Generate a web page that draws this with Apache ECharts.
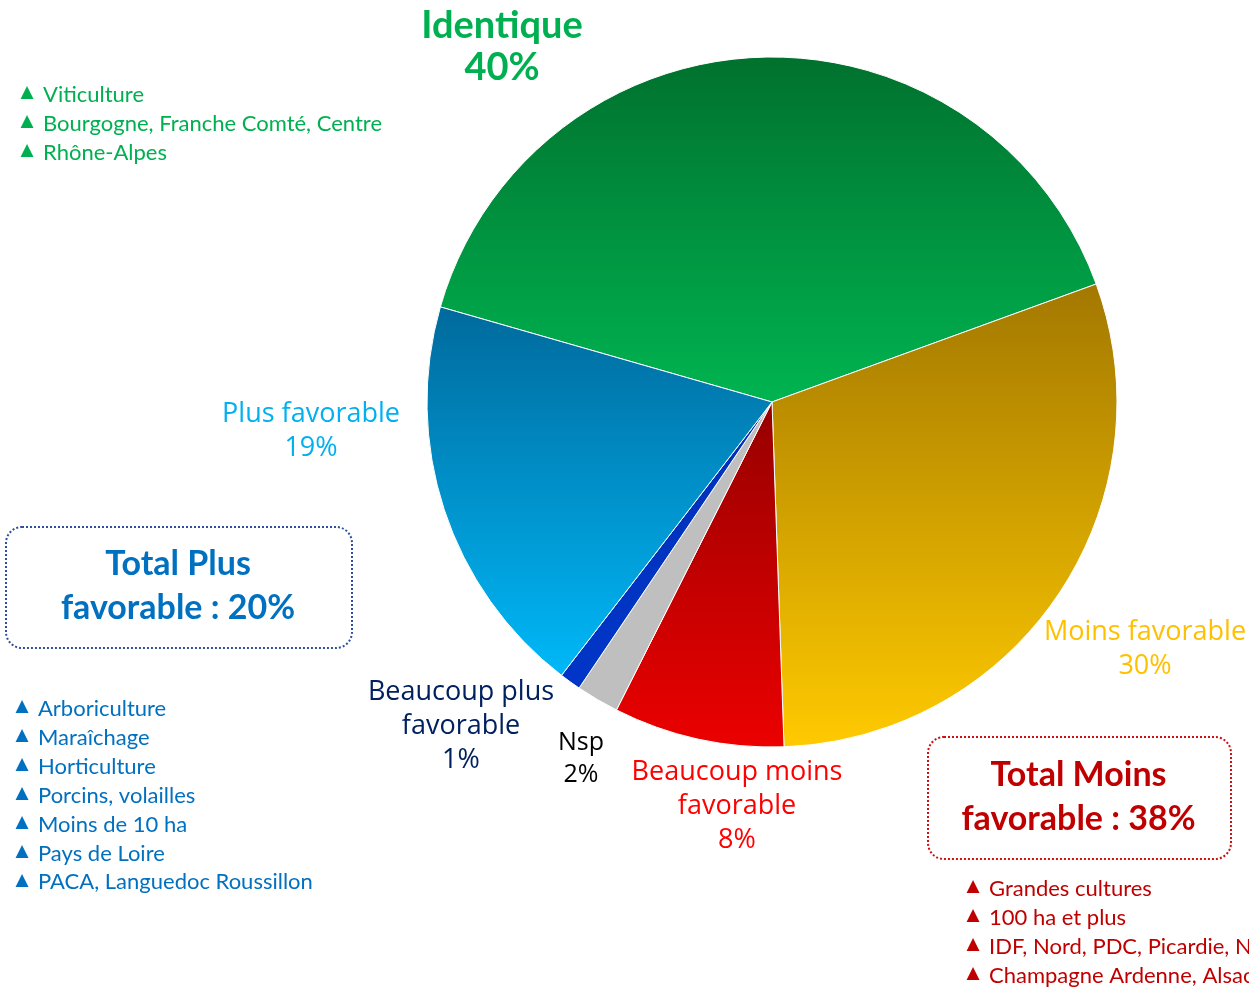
<!DOCTYPE html>
<html>
<head>
<meta charset="utf-8">
<script src="https://cdn.jsdelivr.net/npm/echarts@6/dist/echarts.min.js"></script>
<style>
  html, body { margin: 0; padding: 0; background: #fff; }
  #chart { width: 1249px; height: 989px; }
</style>
</head>
<body>
<div id="chart"></div>
<script>
/* Répartition des réponses : camembert + encadrés de totaux */

// données du camembert
const categories = ['Identique', 'Moins favorable', 'Beaucoup moins favorable', 'Nsp', 'Beaucoup plus favorable', 'Plus favorable'];
const labelNames = ['Identique', 'Moins favorable', 'Beaucoup moins\nfavorable', 'Nsp', 'Beaucoup plus\nfavorable', 'Plus favorable'];
const values = [40, 30, 8, 2, 1, 19];

// totaux
const totalPlus = 20;
const totalMoins = 38;

// listes
const greenItems = ['Viticulture', 'Bourgogne, Franche Comté, Centre', 'Rhône-Alpes'];
const blueItems = ['Arboriculture', 'Maraîchage', 'Horticulture', 'Porcins, volailles', 'Moins de 10 ha', 'Pays de Loire', 'PACA, Languedoc Roussillon'];
const redItems = ['Grandes cultures', '100 ha et plus', 'IDF, Nord, PDC, Picardie, Normandie', 'Champagne Ardenne, Alsace, Lorraine'];

// styles des parts (dégradés haut -> bas)
const sliceColors = [
  ['#00712E', '#00B451'],
  ['#A37800', '#FFCA00'],
  ['#960000', '#EC0000'],
  ['#BFBFBF', '#BFBFBF'],
  ['#0030B8', '#0036C8'],
  ['#006A9C', '#00B8F8']
];
const labelStyles = [
  { color: '#00B050', fontSize: 38, fontWeight: 'bold', lineHeight: 42, fontFamily: 'Lato' },
  { color: '#FFC000', fontSize: 27, lineHeight: 34 },
  { color: '#FF0000', fontSize: 27, lineHeight: 34 },
  { color: '#000000', fontSize: 25, lineHeight: 32 },
  { color: '#002060', fontSize: 27, lineHeight: 34 },
  { color: '#00B0F0', fontSize: 27, lineHeight: 34 }
];
// position des étiquettes (centre du bloc de texte)
const labelPos = [[502, 47], [1145, 649], [737, 806], [581, 759], [461, 726], [311, 431]];

const chart = echarts.init(document.getElementById('chart'));

const pieData = categories.map((name, i) => ({
  name,
  value: values[i],
  itemStyle: {
    color: new echarts.graphic.LinearGradient(0, 0, 0, 1, [
      { offset: 0, color: sliceColors[i][0] },
      { offset: 1, color: sliceColors[i][1] }
    ])
  },
  label: labelStyles[i]
}));

// listes à puces triangulaires
function bulletList(items, x, y0, step, color) {
  const els = [];
  items.forEach((txt, i) => {
    const y = y0 + i * step;
    els.push({
      type: 'text', x: x - 16, y: y - 2,
      style: { text: '▲', fill: color, font: '17px "DejaVu Sans"', align: 'center', verticalAlign: 'middle' }
    });
    els.push({
      type: 'text', x: x, y: y,
      style: { text: txt, fill: color, font: '22px Lato', verticalAlign: 'middle' }
    });
  });
  return els;
}

function totalBox(x, y, w, h, lines, color, border) {
  return [
    {
      type: 'rect', left: x, top: y,
      shape: { width: w, height: h, r: 16 },
      style: { fill: 'transparent', stroke: border, lineWidth: 2, lineDash: [2, 2] }
    },
    {
      type: 'text', x: x + w / 2, y: y + h / 2,
      style: {
        text: lines, fill: color, font: 'bold 34px Lato',
        align: 'center', verticalAlign: 'middle', lineHeight: 44
      }
    }
  ];
}

const option = {
  backgroundColor: '#fff',
  textStyle: { fontFamily: '"Open Sans"' },
  series: [{
    type: 'pie',
    center: [772, 402],
    radius: 345,
    startAngle: 164,
    clockwise: true,
    animation: false,
    itemStyle: { borderColor: '#fff', borderWidth: 1 },
    label: {
      show: true,
      position: 'inside',
      fontFamily: '"Open Sans"',
      formatter: p => labelNames[p.dataIndex] + '\n' + p.value + '%'
    },
    labelLine: { show: false },
    labelLayout: p => ({
      x: labelPos[p.dataIndex][0],
      y: labelPos[p.dataIndex][1],
      align: 'center',
      verticalAlign: 'middle'
    }),
    emphasis: { disabled: true },
    data: pieData
  }],
  graphic: [
    ...bulletList(greenItems, 43, 95, 29, '#00B050'),
    ...bulletList(blueItems, 38, 709, 28.9, '#0070C0'),
    ...bulletList(redItems, 989, 889, 29, '#C00000'),
    ...totalBox(5, 526, 346, 121, 'Total Plus\nfavorable : ' + totalPlus + '%', '#0070C0', '#2F4FA0'),
    ...totalBox(927, 736, 303, 122, 'Total Moins\nfavorable : ' + totalMoins + '%', '#C00000', '#D01010')
  ]
};

chart.setOption(option);
window.addEventListener('resize', () => chart.resize());
</script>
</body>
</html>
